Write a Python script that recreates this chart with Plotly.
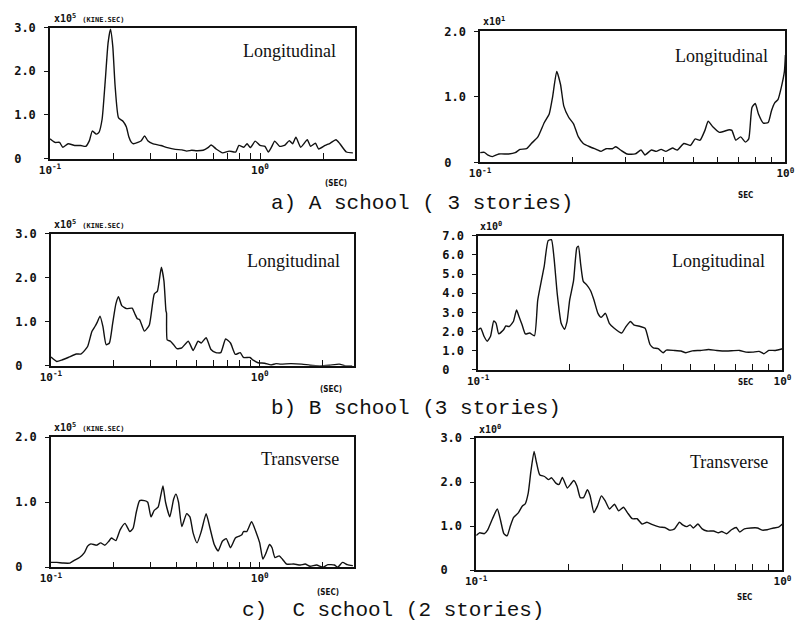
import plotly.graph_objects as go

# ---------------- data (periods in sec, amplitudes in displayed units) ----------------
A_L_T = [0.100,0.1055,0.111,0.115,0.122,0.131,0.140,0.148,0.154,0.159,0.166,0.171,0.177,0.183,0.189,0.194,0.199,0.204,0.212,0.223,0.231,0.2372,0.2441,0.249,0.262,0.272,0.282,0.292,0.308,0.337,0.362,0.395,0.425,0.448,0.473,0.499,0.536,0.565,0.585,0.618,0.663,0.712,0.765,0.793,0.837,0.867,0.899,0.948,1.000,1.055,1.094,1.133,1.174,1.239,1.307,1.379,1.429,1.481,1.562,1.678,1.739,1.834,1.901,2.042,2.154,2.297,2.398,2.576,2.766]
A_L_V = [0.45,0.37,0.37,0.26,0.34,0.30,0.30,0.28,0.41,0.63,0.56,0.60,0.90,1.75,2.65,2.96,2.57,1.68,0.93,0.85,0.72,0.50,0.37,0.34,0.37,0.41,0.52,0.41,0.34,0.30,0.25,0.21,0.20,0.17,0.19,0.18,0.19,0.25,0.31,0.22,0.13,0.17,0.15,0.30,0.26,0.34,0.25,0.40,0.30,0.28,0.15,0.26,0.40,0.28,0.30,0.41,0.34,0.49,0.26,0.43,0.28,0.35,0.22,0.30,0.35,0.43,0.34,0.15,0.13]

A_R_T = [0.1000,0.1032,0.1058,0.1097,0.1152,0.1240,0.1303,0.1351,0.1419,0.1472,0.1546,0.1623,0.1684,0.1726,0.1782,0.1834,0.1880,0.1950,0.2023,0.2099,0.2177,0.2287,0.2401,0.2491,0.2585,0.2714,0.2781,0.2885,0.3029,0.3221,0.3366,0.3466,0.3640,0.3776,0.3917,0.4063,0.4268,0.4428,0.4650,0.4883,0.5065,0.5254,0.5449,0.5585,0.5794,0.6084,0.6549,0.6679,0.6878,0.7134,0.7401,0.7585,0.7772,0.7965,0.8162,0.8468,0.8784,0.9004,0.9225,0.9454,0.9687,0.9926,1.0]
A_R_V = [0.15,0.155,0.115,0.09,0.13,0.13,0.15,0.20,0.21,0.29,0.39,0.61,0.74,0.99,1.39,1.19,0.86,0.69,0.59,0.39,0.29,0.24,0.20,0.17,0.21,0.21,0.24,0.19,0.13,0.13,0.19,0.115,0.19,0.17,0.20,0.17,0.22,0.19,0.29,0.26,0.36,0.34,0.49,0.63,0.54,0.46,0.50,0.49,0.34,0.39,0.31,0.36,0.84,0.90,0.74,0.60,0.61,0.79,0.91,0.96,1.14,1.39,1.64]

B_L_T = [0.100,0.1029,0.1066,0.1125,0.1209,0.1322,0.1395,0.1498,0.1570,0.1627,0.1669,0.1718,0.1774,0.1838,0.1905,0.1974,0.2046,0.2106,0.2183,0.2303,0.2448,0.2519,0.2593,0.2659,0.2804,0.2960,0.3124,0.3236,0.3379,0.3477,0.3555,0.3578,0.3604,0.3735,0.3871,0.4012,0.4234,0.4549,0.4800,0.5064,0.5249,0.5538,0.5843,0.6166,0.6508,0.6866,0.7244,0.7645,0.8066,0.8360,0.8982,0.9309,0.982,1.055,1.133,1.197,1.262,1.405,1.593,1.742,1.940,2.160,2.404,2.583,2.775]
B_L_V = [0.20,0.15,0.10,0.13,0.19,0.27,0.27,0.44,0.78,0.90,1.0,1.13,0.89,0.48,0.52,0.96,1.41,1.57,1.37,1.30,1.31,1.19,1.07,1.05,0.79,0.93,1.63,1.70,2.24,1.93,1.25,1.20,0.59,0.56,0.48,0.39,0.41,0.56,0.35,0.56,0.52,0.64,0.37,0.30,0.30,0.61,0.52,0.26,0.30,0.19,0.19,0.13,0.07,0.06,0.02,0.05,0.04,0.05,0.04,0.015,0.0,0.015,0.04,0.0,0.0]

B_R_T = [0.1000,0.1020,0.1045,0.1071,0.1098,0.1125,0.1145,0.1168,0.1212,0.1233,0.1264,0.1305,0.1337,0.1360,0.1394,0.1429,0.1476,0.1531,0.1569,0.1617,0.1649,0.1698,0.1741,0.1775,0.1819,0.1874,0.1920,0.1959,0.1998,0.2058,0.2109,0.2135,0.2172,0.2215,0.2270,0.2339,0.2403,0.2475,0.2537,0.2619,0.2698,0.2800,0.2963,0.3052,0.3166,0.3245,0.3409,0.3537,0.3670,0.3762,0.3904,0.4051,0.4152,0.4415,0.4638,0.4813,0.5056,0.5377,0.5717,0.6081,0.6546,0.7223,0.7587,0.7972,0.8375,0.8690,0.9017,0.9474,1.000]
B_R_V = [2.09,2.17,1.75,1.49,1.75,2.55,2.43,1.88,2.09,2.29,2.26,2.52,3.12,2.81,2.35,1.87,1.92,1.78,3.63,4.74,5.43,6.75,6.80,5.86,3.97,2.43,2.12,2.52,3.63,4.66,6.37,6.46,5.51,4.62,4.45,4.14,3.63,2.95,2.74,2.95,2.43,2.17,1.92,2.23,2.52,2.35,2.26,2.17,1.32,1.15,1.10,0.89,1.03,1.01,0.98,0.89,0.99,1.01,1.06,1.01,0.98,1.01,0.92,0.92,0.96,0.84,1.01,1.01,1.10]

C_L_T = [0.100,0.1066,0.1146,0.1231,0.1299,0.1370,0.1446,0.1498,0.1553,0.1651,0.1730,0.1812,0.1892,0.1947,0.2046,0.2144,0.2262,0.2387,0.2474,0.2564,0.2659,0.2804,0.2907,0.3013,0.3124,0.3260,0.3355,0.3440,0.3540,0.3709,0.3871,0.3970,0.4085,0.4234,0.4468,0.4631,0.4800,0.5010,0.5248,0.5538,0.5781,0.6057,0.6324,0.6625,0.6916,0.7244,0.7645,0.7923,0.8212,0.8360,0.8665,0.9145,0.9647,1.000,1.036,1.074,1.114,1.146,1.183,1.240,1.285,1.346,1.457,1.565,1.651,1.742,1.872,2.010,2.121,2.279,2.362,2.493,2.630,2.795]
C_L_V = [0.075,0.075,0.065,0.065,0.11,0.15,0.225,0.325,0.36,0.34,0.375,0.34,0.40,0.45,0.41,0.575,0.675,0.55,0.60,0.85,1.025,1.025,1.0,0.775,0.875,0.925,1.10,1.25,1.0,0.775,1.05,1.125,1.0,0.625,0.825,0.775,0.525,0.375,0.55,0.825,0.6,0.35,0.25,0.40,0.44,0.30,0.45,0.475,0.50,0.55,0.55,0.70,0.525,0.375,0.125,0.225,0.35,0.30,0.15,0.175,0.125,0.05,0.05,0.035,0.05,0.015,0.035,0.0,0.04,0.035,0.0,0.075,0.04,0.025]

C_R_T = [0.1000,0.1025,0.1063,0.1089,0.1130,0.1172,0.1201,0.1231,0.1261,0.1293,0.1325,0.1374,0.1415,0.1443,0.1479,0.1508,0.1545,0.1572,0.1611,0.1671,0.1721,0.1763,0.1820,0.1865,0.1911,0.1983,0.2032,0.2082,0.2134,0.2186,0.2241,0.2307,0.2353,0.2423,0.2489,0.2563,0.2640,0.2724,0.2827,0.2917,0.3026,0.3116,0.3232,0.3353,0.3478,0.3609,0.3744,0.3979,0.4128,0.4282,0.4443,0.4608,0.4722,0.4875,0.4995,0.5119,0.5297,0.5467,0.5671,0.5956,0.6180,0.6332,0.6569,0.6813,0.7067,0.7243,0.7512,0.7889,0.8285,0.8593,0.8914,0.9361,0.9712,1.000]
C_R_V = [0.79,0.85,0.83,0.91,1.17,1.39,1.13,0.83,0.78,1.01,1.20,1.31,1.46,1.50,1.76,2.24,2.70,2.46,2.17,2.13,2.06,2.10,1.98,1.95,2.11,1.87,1.95,2.04,1.91,1.65,1.65,1.83,1.70,1.31,1.46,1.69,1.57,1.39,1.50,1.35,1.43,1.31,1.17,1.17,1.05,1.09,1.04,0.98,0.97,0.91,0.94,1.09,1.03,0.99,1.03,0.96,1.05,0.94,0.89,0.89,0.85,0.88,0.83,0.92,0.97,0.87,0.94,0.96,0.96,0.91,0.92,0.96,0.98,1.05]

LEFT_XTICKS = [0.1,0.2,0.3,0.4,0.5,0.6,0.7,0.8,0.9,1.0,2.0]
LEFT_XTEXT = ["10<sup>-1</sup>","","","","","","","","","10<sup>0</sup>",""]
LEFT_XMAX = 2.84
RIGHT_XTICKS = [0.1,0.2,0.3,0.4,0.5,0.6,0.7,0.8,0.9,1.0]
RIGHT_XTEXT = ["10<sup>-1</sup>","","","","","","","","","10<sup>0</sup>"]
RIGHT_XMAX = 1.0

CAPTIONS = ["a) A school ( 3 stories)", "b) B school (3 stories)", "c)  C school (2 stories)"]
DIRECTIONS = ["Longitudinal", "Longitudinal", "Longitudinal", "Longitudinal", "Transverse", "Transverse"]
SCALES = ["x10<sup>5</sup>", "x10<sup>1</sup>", "x10<sup>5</sup>", "x10<sup>0</sup>", "x10<sup>5</sup>", "x10<sup>0</sup>"]

# ---------------- layout helpers ----------------
import math
W, H = 810, 631
def px(x): return x / W
def py(y): return 1 - y / H

NB = "\u00a0"
def ylabels(n):
    vals = list(range(n + 1))
    txt = ["0" + NB + NB] + ["%d.0" % v for v in vals[1:]]
    return vals, txt

panels = [
    dict(T=A_L_T, V=A_L_V, box=(40, 21, 353, 155), side="L", ymax=3),
    dict(T=A_R_T, V=A_R_V, box=(481, 25, 794, 159), side="R", ymax=2),
    dict(T=B_L_T, V=B_L_V, box=(41, 232, 352, 367), side="L", ymax=3),
    dict(T=B_R_T, V=B_R_V, box=(479, 234, 791, 371), side="R", ymax=7),
    dict(T=C_L_T, V=C_L_V, box=(41, 440, 352, 573), side="L", ymax=2),
    dict(T=C_R_T, V=C_R_V, box=(477, 441, 791, 576), side="R", ymax=3),
]

TICKFONT = dict(family="DejaVu Sans Mono", size=12, color="#111", weight="bold")
XTICKFONT = dict(family="DejaVu Sans Mono", size=11, color="#111", weight="bold")
LABELFONT = dict(family="Liberation Serif, DejaVu Serif", size=18, color="#111")
CAPFONT = dict(family="Liberation Mono, Courier New, monospace", size=21, color="#111")
SMALLFONT = dict(family="DejaVu Sans Condensed, DejaVu Sans", size=8, color="#111", weight="bold")
SCALEFONT = dict(family="DejaVu Sans Mono", size=10, color="#111", weight="bold")

fig = go.Figure()
annotations = []
label_pos = [(286, 45), (728, 50), (290, 260), (725, 260), (296, 462), (736, 465)]
unit_pos = [(333, 180), (753, 193), (328, 391), (753, 384), (325, 599), (752, 604)]
scale_pos = [(42, 19), (482, 23), (42, 230), (479, 232), (42, 438), (478, 440)]

for i, p in enumerate(panels):
    k = "" if i == 0 else str(i + 1)
    x0, y0, x1, y1 = p["box"]
    fig.add_trace(go.Scatter(
        x=p["T"], y=p["V"], mode="lines",
        line=dict(color="#111", width=1.4, shape="spline", smoothing=0.5),
        xaxis="x" + k, yaxis="y" + k, showlegend=False, hoverinfo="skip"))
    left = p["side"] == "L"
    yv, yt = ylabels(p["ymax"])
    fig.update_layout(**{
        "xaxis" + k: dict(
            type="log", domain=[px(x0), px(x1)], anchor="y" + k,
            range=[-1, math.log10(LEFT_XMAX if left else RIGHT_XMAX)],
            tickvals=LEFT_XTICKS if left else RIGHT_XTICKS,
            ticktext=LEFT_XTEXT if left else RIGHT_XTEXT,
            ticks="inside", ticklen=6, tickwidth=1.2, tickcolor="#111",
            showline=True, linecolor="#111", linewidth=1.5, mirror=True,
            showgrid=False, zeroline=False, tickfont=XTICKFONT, tickangle=0),
        "yaxis" + k: dict(
            domain=[py(y1), py(y0)], anchor="x" + k,
            range=[0, p["ymax"]], tickvals=yv, ticktext=yt,
            ticks="outside", ticklen=4, tickwidth=1.2, tickcolor="#111",
            ticklabelstandoff=6,
            showline=True, linecolor="#111", linewidth=1.5, mirror=True,
            showgrid=False, zeroline=False, tickfont=TICKFONT),
    })
    lx, ly = label_pos[i]
    annotations.append(dict(text=DIRECTIONS[i], x=px(lx), y=py(ly), xref="paper", yref="paper",
                            showarrow=False, font=LABELFONT, xanchor="center", yanchor="middle"))
    sx, sy = scale_pos[i]
    stxt = SCALES[i]
    if left:
        stxt += " <span style='font-size:7px'>(KINE.SEC)</span>"
    annotations.append(dict(text=stxt, x=px(sx), y=py(sy), xref="paper", yref="paper",
                            showarrow=False, font=SCALEFONT, xanchor="left", yanchor="bottom"))
    ux, uy = unit_pos[i]
    annotations.append(dict(text="(SEC)" if left else "SEC", x=px(ux), y=py(uy), xref="paper", yref="paper",
                            showarrow=False, font=SMALLFONT, xanchor="center", yanchor="middle"))

cap_pos = [(421, 201), (415, 411), (392, 617)]
for c, (cx, cy) in zip(CAPTIONS, cap_pos):
    annotations.append(dict(text=c.replace(" ", NB), x=px(cx), y=py(cy), xref="paper", yref="paper",
                            showarrow=False, font=CAPFONT, xanchor="center", yanchor="middle"))

fig.update_layout(width=W, height=H, margin=dict(l=0, r=0, t=0, b=0),
                  paper_bgcolor="white", plot_bgcolor="white",
                  annotations=annotations)
fig.write_html("out.html")
